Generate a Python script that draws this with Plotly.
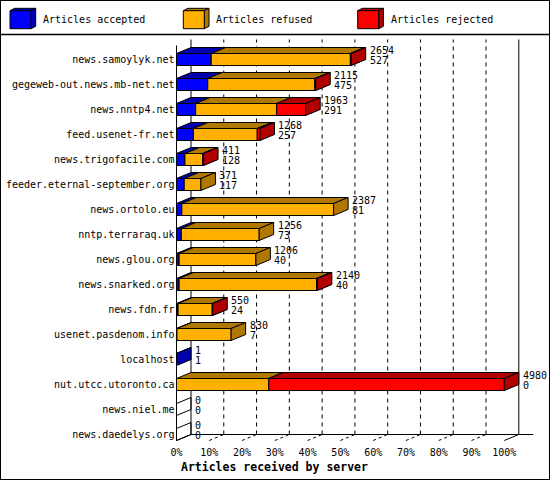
import plotly.graph_objects as go

# ---------------- data ----------------
servers = [
    "news.samoylyk.net", "gegeweb-out.news.mb-net.net", "news.nntp4.net",
    "feed.usenet-fr.net", "news.trigofacile.com", "feeder.eternal-september.org",
    "news.ortolo.eu", "nntp.terraraq.uk", "news.glou.org", "news.snarked.org",
    "news.fdn.fr", "usenet.pasdenom.info", "localhost", "nut.utcc.utoronto.ca",
    "news.niel.me", "news.daedelys.org",
]
accepted = [527, 475, 291, 257, 128, 117, 81, 73, 40, 40, 24, 7, 1, 0, 0, 0]
refused = [2115, 1628, 1231, 971, 270, 254, 2306, 1183, 1166, 2088, 520, 823, 0, 1401, 0, 0]
rejected = [12, 12, 441, 40, 13, 0, 0, 0, 0, 12, 6, 0, 0, 3579, 0, 0]
series_names = ["Articles accepted", "Articles refused", "Articles rejected"]
x_ticks = [0, 10, 20, 30, 40, 50, 60, 70, 80, 90, 100]
x_tick_labels = ["0%", "10%", "20%", "30%", "40%", "50%", "60%", "70%", "80%", "90%", "100%"]
axis_title = "Articles received by server"

# ---------------- style ----------------
front_colors = ["#0000FF", "#FFB000", "#FF0000"]
shade_colors = ["#0000B0", "#B07800", "#B00000"]
FONT = "DejaVu Sans Mono"
W, H = 550, 480
X0_PX, X100_PX = 176.5, 504.3
PXPP = (X100_PX - X0_PX) / 100.0
ROW0_PX, ROW_STEP = 59.5, 25.0
DX = 14.5 / PXPP          # depth offset in % units
DY = 6.0 / ROW_STEP       # depth offset in row units
HH = 6.0 / ROW_STEP       # half bar height
xr = [-X0_PX / PXPP, (W - X0_PX) / PXPP]
yr = [(H - ROW0_PX) / ROW_STEP, -ROW0_PX / ROW_STEP]

n = len(servers)
series = [accepted, refused, rejected]
totals = [a + r + j for a, r, j in zip(accepted, refused, rejected)]
vmax = max(totals)

floor_front = (n - 1) + HH
floor_back = floor_front - DY
top_front = -HH - 0.32
top_back = top_front - DY

fig = go.Figure()


def seg(xs, ys, dash="solid", width=1):
    fig.add_trace(go.Scatter(x=xs, y=ys, mode="lines", hoverinfo="skip", showlegend=False,
                             line=dict(color="black", width=width, dash=dash)))


def poly(xs, ys, fill):
    fig.add_trace(go.Scatter(x=xs + [xs[0]], y=ys + [ys[0]], mode="lines", fill="toself",
                             fillcolor=fill, hoverinfo="skip", showlegend=False,
                             line=dict(color="black", width=1)))


# back wall grid (dashed) and floor depth ticks
for p in x_ticks[1:-1]:
    seg([p + DX, p + DX], [floor_back, top_back], dash="4px,4px")
    seg([p, p + DX], [floor_front, floor_back], dash="3px,3px")
seg([0, 0], [top_front, floor_front])
seg([DX, DX], [top_back, floor_back])
seg([100 + DX, 100 + DX], [top_back, floor_back])
seg([0, DX], [floor_front, floor_back])
seg([100, 100 + DX], [floor_front, floor_back])
seg([DX, 100 + 2 * DX], [floor_back, floor_back])

# 3D bars
for i in range(n):
    top, bot = i - HH, i + HH
    start = 0.0
    if totals[i] == 0:
        fig.add_trace(go.Scatter(x=[0, DX, DX, 0, 0], y=[top, top - DY, bot - DY, bot, top],
                                 mode="lines", hoverinfo="skip", showlegend=False,
                                 line=dict(color="black", width=1)))
    for k in range(3):
        v = series[k][i]
        if v <= 0:
            continue
        x0 = start
        x1 = start + v / vmax * 100.0
        start = x1
        poly([x0, x1, x1, x0], [top, top, bot, bot], front_colors[k])
        poly([x0, x1, x1 + DX, x0 + DX], [top, top, top - DY, top - DY], shade_colors[k])
        poly([x1, x1 + DX, x1 + DX, x1], [top, top - DY, bot - DY, bot], shade_colors[k])

annotations = []
for i in range(n):
    xe = totals[i] / vmax * 100.0 + DX
    for text, yy in ((str(totals[i]), i - 0.38), (str(accepted[i]), i + 0.05)):
        annotations.append(dict(x=xe, y=yy, xref="x", yref="y", text=text, showarrow=False,
                                xanchor="left", yanchor="middle", xshift=2,
                                font=dict(family=FONT, size=10, color="black")))

# legend (drawn)
shapes = []


def pp(x, y):
    return x / W, 1 - y / H


legend_x = [10, 183.3, 357.7]
for k, name in enumerate(series_names):
    lx = legend_x[k]
    fx0, fy0 = pp(lx, 10.7)
    fx1, fy1 = pp(lx + 21, 28.7)
    d_x, d_y = 4.7 / W, 2.4 / H
    shapes.append(dict(type="path", xref="paper", yref="paper",
                       path=f"M{fx0},{fy0} L{fx1},{fy0} L{fx1 + d_x},{fy0 + d_y} L{fx0 + d_x},{fy0 + d_y} Z",
                       fillcolor=shade_colors[k], line=dict(color="black", width=1)))
    shapes.append(dict(type="path", xref="paper", yref="paper",
                       path=f"M{fx1},{fy0} L{fx1 + d_x},{fy0 + d_y} L{fx1 + d_x},{fy1 + d_y} L{fx1},{fy1} Z",
                       fillcolor=shade_colors[k], line=dict(color="black", width=1)))
    shapes.append(dict(type="rect", xref="paper", yref="paper", x0=fx0, y0=fy1, x1=fx1, y1=fy0,
                       fillcolor=front_colors[k], line=dict(color="black", width=1)))
    tx, ty = pp(lx + 31, 19.8)
    annotations.append(dict(x=tx, y=ty, xref="paper", yref="paper", text=name, showarrow=False,
                            xanchor="left", yanchor="middle",
                            font=dict(family=FONT, size=10, color="black")))

sx, sy = pp(0, 34.5)
shapes.append(dict(type="line", xref="paper", yref="paper", x0=0, x1=1, y0=sy, y1=sy,
                   line=dict(color="black", width=1.5)))
shapes.append(dict(type="rect", xref="paper", yref="paper", x0=0, x1=1, y0=0, y1=1,
                   line=dict(color="black", width=2)))

tx, ty = pp(179, 467.3)
annotations.append(dict(x=tx, y=ty, xref="paper", yref="paper", text="<b>" + axis_title + "</b>",
                        showarrow=False, xanchor="left", yanchor="middle",
                        font=dict(family=FONT, size=11.5, color="black")))

fig.update_layout(
    width=W, height=H, margin=dict(l=0, r=0, t=0, b=0),
    paper_bgcolor="white", plot_bgcolor="white", showlegend=False,
    xaxis=dict(range=xr, showgrid=False, zeroline=False, showline=False, ticks="",
               tickvals=x_ticks, ticktext=x_tick_labels, anchor="free",
               position=1 - (ROW0_PX + ROW_STEP * floor_front) / H, automargin=False,
               ticklabelstandoff=4, tickfont=dict(family=FONT, size=10, color="black")),
    yaxis=dict(range=yr, showgrid=False, zeroline=False, showline=False, ticks="",
               tickvals=list(range(n)), ticktext=servers, anchor="free",
               position=X0_PX / W, side="left", automargin=False,
               ticklabelstandoff=2, tickfont=dict(family=FONT, size=10, color="black")),
    annotations=annotations, shapes=shapes,
)

fig.write_html("out.html", config={"displayModeBar": False},
               post_script="document.body.style.margin='0';document.body.style.overflow='hidden';")
